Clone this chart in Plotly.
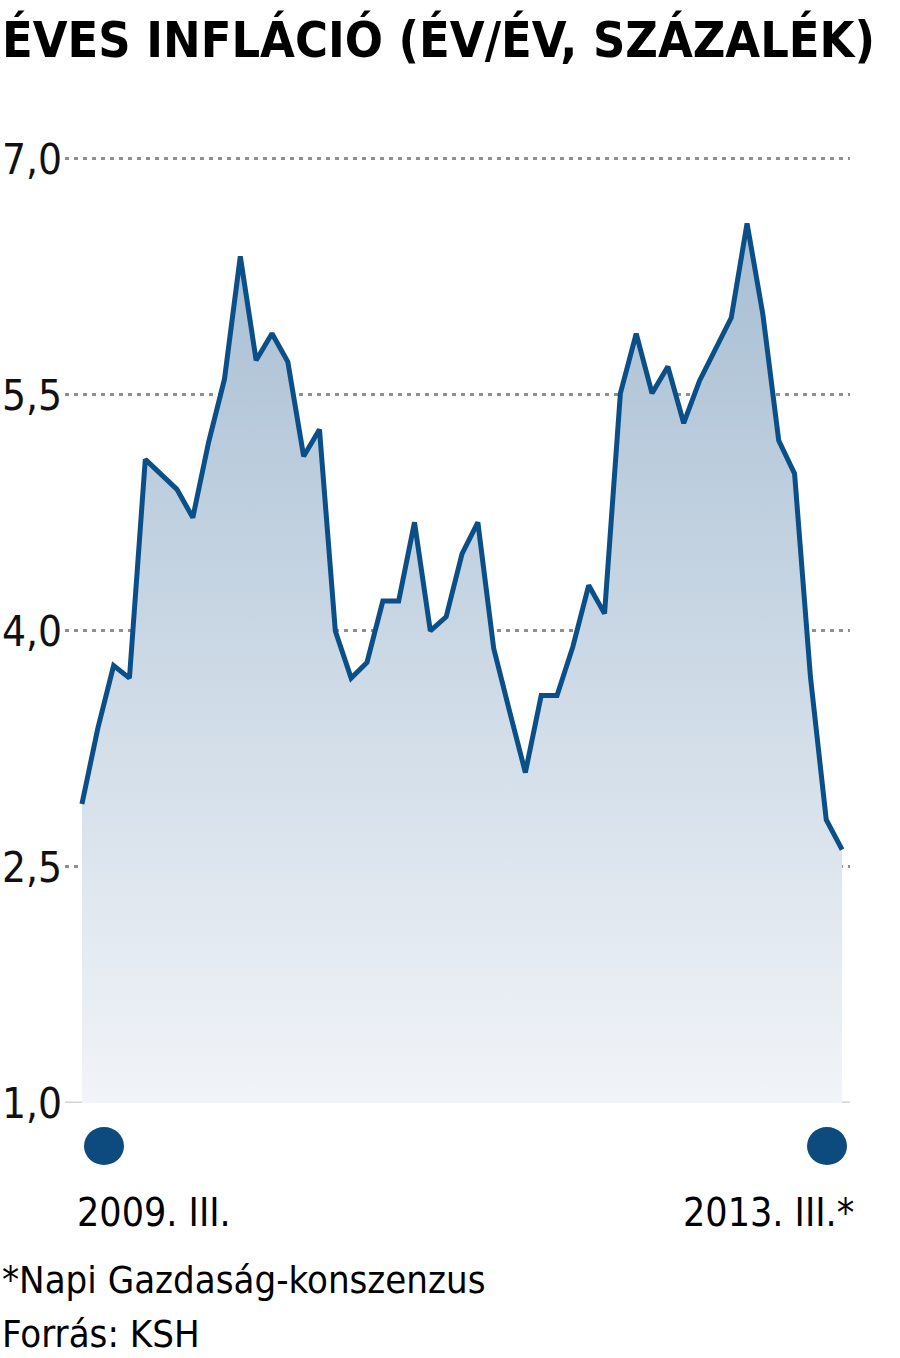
import plotly.graph_objects as go

# Monthly annual inflation, 2009 March .. 2013 March (49 months)
months = list(range(49))
inflation = [2.90, 3.38, 3.78, 3.70, 5.09, 4.99, 4.90, 4.72, 5.20, 5.60,
             6.38, 5.72, 5.89, 5.71, 5.11, 5.28, 4.00, 3.70, 3.80, 4.19,
             4.19, 4.69, 4.00, 4.09, 4.49, 4.69, 3.89, 3.49, 3.10, 3.59,
             3.59, 3.90, 4.29, 4.11, 5.51, 5.89, 5.51, 5.68, 5.32, 5.59,
             5.79, 5.99, 6.59, 6.01, 5.21, 5.00, 3.71, 2.80, 2.61]
y_ticks = [1.0, 2.5, 4.0, 5.5, 7.0]
title_text = "ÉVES INFLÁCIÓ (ÉV/ÉV, SZÁZALÉK)"
start_label = "2009. III."
end_label = "2013. III.*"
note_text = "*Napi Gazdaság-konszenzus"
source_text = "Forrás: KSH"

FONT = "DejaVu Sans Condensed, Liberation Sans Narrow, sans-serif"
LINE = "#0b4f88"
W, H = 900, 1358
Y_LO, Y_HI = 1.0, 7.05
ML, MR, MT, MB = 65, 50, 151, 255
PW, PH = W - ML - MR, H - MT - MB


def px(x):
    return (x - ML) / PW


def py(y):
    return (H - MB - y) / PH


fig = go.Figure()
fig.add_trace(go.Scatter(
    x=months, y=inflation, mode="lines",
    line=dict(color=LINE, width=5),
    fill="tozeroy",
    fillgradient=dict(type="vertical", start=1.0, stop=6.6,
                      colorscale=[[0, "#f1f4f8"], [1, "#a7bed3"]]),
    hoverinfo="skip", showlegend=False,
))

fig.update_layout(
    width=W, height=H,
    margin=dict(l=ML, r=MR, t=MT, b=MB, autoexpand=False),
    paper_bgcolor="white", plot_bgcolor="white",
    separators=", ",
    showlegend=False,
    xaxis=dict(range=[-1.07, 48.5], showgrid=False, zeroline=False,
               showticklabels=False, showline=False, fixedrange=True,
               automargin=False),
    yaxis=dict(range=[Y_LO, Y_HI], tickvals=y_ticks[1:], tickformat=".1f",
               showgrid=True, gridcolor="#8f8f8f", gridwidth=3, griddash="4px,5px",
               zeroline=False, showline=False, ticks="", automargin=False,
               tickfont=dict(family=FONT, size=42, color="#111"),
               ticklabelstandoff=2, fixedrange=True),
)

# baseline at 1,0
fig.add_shape(type="line", xref="paper", yref="y", x0=0, x1=1, y0=1.0, y1=1.0,
              line=dict(color="#d4d4d4", width=3), layer="below")
fig.add_annotation(xref="paper", yref="y", x=px(0), y=1.0, xanchor="left",
                   yanchor="middle", text="1,0", showarrow=False,
                   font=dict(family=FONT, size=42, color="#111"))

# endpoint dots
for cx in (104, 827):
    fig.add_shape(type="circle", xref="paper", yref="paper",
                  xsizemode="pixel", ysizemode="pixel",
                  xanchor=px(cx), yanchor=py(1146),
                  x0=-20, x1=20, y0=-19, y1=19,
                  fillcolor="#0d4a7d", line=dict(width=0))

fig.add_annotation(xref="paper", yref="paper", x=px(0), y=py(40),
                   xanchor="left", yanchor="middle", text="<b>" + title_text + "</b>",
                   showarrow=False, font=dict(family=FONT, size=50, color="#000"))
fig.add_annotation(xref="paper", yref="paper", x=px(75), y=py(1212),
                   xanchor="left", yanchor="middle", text=start_label,
                   showarrow=False, font=dict(family=FONT, size=39, color="#000"))
fig.add_annotation(xref="paper", yref="paper", x=px(856), y=py(1212),
                   xanchor="right", yanchor="middle", text=end_label,
                   showarrow=False, font=dict(family=FONT, size=39, color="#000"))
fig.add_annotation(xref="paper", yref="paper", x=px(0), y=py(1280),
                   xanchor="left", yanchor="middle", text=note_text,
                   showarrow=False, font=dict(family=FONT, size=38, color="#000"))
fig.add_annotation(xref="paper", yref="paper", x=px(0), y=py(1334),
                   xanchor="left", yanchor="middle", text=source_text,
                   showarrow=False, font=dict(family=FONT, size=38, color="#000"))

fig.write_html("out.html", config={"displayModeBar": False},
               post_script="document.body.style.margin='0';")
